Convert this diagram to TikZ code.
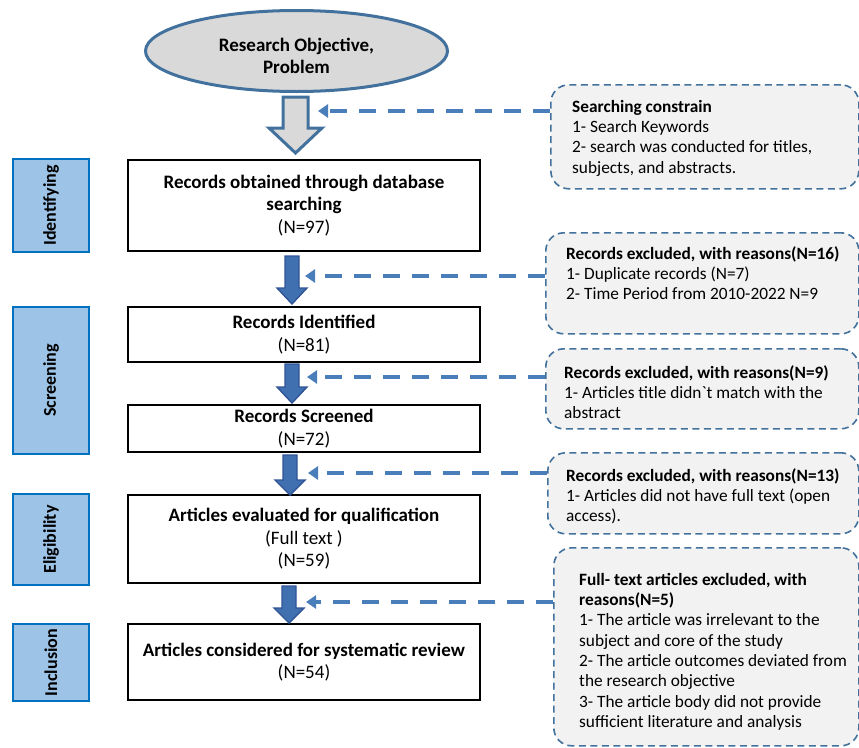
\documentclass[tikz,border=0pt]{standalone}
\usepackage{fontspec}
\setmainfont{Carlito}
\newfontfamily\plainfont[Ligatures=TeXOff]{Carlito}
\usetikzlibrary{shapes.geometric,arrows.meta}
\definecolor{ellfill}{HTML}{D9D9D9}
\definecolor{ellborder}{HTML}{41719C}
\definecolor{sidefill}{HTML}{9DC3E6}
\definecolor{sideborder}{HTML}{0070C0}
\definecolor{callfill}{HTML}{F2F2F2}
\definecolor{callborder}{HTML}{41719C}
\definecolor{darrcol}{HTML}{4A7EBB}
\definecolor{blkfill}{HTML}{4170B0}
\definecolor{blkborder}{HTML}{2F5597}
\begin{document}
\begin{tikzpicture}[x=1pt,y=-1pt,
  mainbox/.style={draw=black, line width=2.3pt, fill=white, align=center, inner sep=0pt,
    minimum width=352pt, font=\fontsize{19}{22.5}\selectfont},
  sidebox/.style={draw=sideborder, fill=sidefill, line width=2pt, rotate=90, inner sep=0pt,
    minimum height=76pt, font=\bfseries\fontsize{18}{20}\selectfont},
  callout/.style={draw=callborder, fill=callfill, line width=1.6pt, dash pattern=on 7pt off 4.5pt,
    rounded corners=18pt, inner sep=0pt, anchor=north west},
  ctext/.style={align=left, anchor=north west, inner sep=0pt, font=\fontsize{17.3}{20.3}\selectfont},
  darr/.style={draw=darrcol, line width=3.6pt, dash pattern=on 17pt off 12pt,
    -{Triangle[length=10pt,width=13pt]}},
  blk/.style={draw=blkborder, fill=blkfill, line width=1.4pt, line join=miter},
  hollow/.style={draw=ellborder, fill=ellfill, line width=3pt, line join=miter}
]
\useasboundingbox (0,0) rectangle (859,747);

% objective ellipse
\node[ellipse, draw=ellborder, fill=ellfill, line width=3pt, minimum width=302pt, minimum height=81pt,
  inner sep=0pt] (obj) at (296.5,51) {};
\node[align=center, inner sep=0pt, font=\bfseries\fontsize{19}{22.5}\selectfont] (objt) at (296.5,56)
  {Research Objective,\\Problem};

% hollow arrow
\draw[hollow] (283,97) -- (308,97) -- (308,128) -- (322,128) -- (295.5,153) -- (269,128) -- (283,128) -- cycle;

% main boxes
\node[mainbox, minimum height=91pt] (b1) at (304,205.5)
  {\textbf{Records obtained through database}\\\textbf{searching}\\(N=97)};
\node[mainbox, minimum height=55pt] (b2) at (304,334.5)
  {\textbf{Records Identified}\\(N=81)};
\node[mainbox, minimum height=47pt] (b3) at (304,428.5)
  {\textbf{Records Screened}\\(N=72)};
\node[mainbox, minimum height=88pt] (b4) at (304,539)
  {\textbf{Articles evaluated for qualification}\\(Full text )\\(N=59)};
\node[mainbox, minimum height=76pt] (b5) at (304,662)
  {\textbf{Articles considered for systematic review}\\(N=54)};

% side labels
\node[sidebox, minimum width=93pt] (s1) at (51,205.5) {Identifying};
\node[sidebox, minimum width=147pt] (s2) at (51,380.5) {Screening};
\node[sidebox, minimum width=91pt] (s3) at (51,539.5) {Eligibility};
\node[sidebox, minimum width=77pt] (s4) at (51,662.5) {Inclusion};

% block arrows
\draw[blk] (285,256) -- (299,256) -- (299,288) -- (307,288) -- (292,304) -- (277,288) -- (285,288) -- cycle;
\draw[blk] (285,364) -- (299,364) -- (299,387) -- (307,387) -- (292,403) -- (277,387) -- (285,387) -- cycle;
\draw[blk] (283,455) -- (297,455) -- (297,480) -- (305,480) -- (290,495) -- (275,480) -- (283,480) -- cycle;
\draw[blk] (282,586) -- (296,586) -- (296,608) -- (304,608) -- (289,623) -- (274,608) -- (282,608) -- cycle;

% callouts
\node[callout, minimum width=308pt, minimum height=104pt] (c1) at (550,84) {};
\node[callout, minimum width=313pt, minimum height=101pt] (c2) at (545,232) {};
\node[callout, minimum width=313pt, minimum height=80pt] (c3) at (545,348) {};
\node[callout, minimum width=311pt, minimum height=81pt] (c4) at (547,452) {};
\node[callout, minimum width=305pt, minimum height=198pt] (c5) at (553,547) {};

\node[ctext] (t1) at (572,100) {\textbf{Searching constrain}\\1- Search Keywords\\2- search was conducted for titles,\\subjects, and abstracts.};
\node[ctext] (t2) at (566,246) {\textbf{Records excluded, with reasons(N=16)}\\1- Duplicate records (N=7)\\2- Time Period from 2010-2022 N=9};
\node[ctext] (t3) at (564,365) {\textbf{Records excluded, with reasons(N=9)}\\1- Articles title didn{\plainfont`}t match with the\\abstract};
\node[ctext] (t4) at (566,468) {\textbf{Records excluded, with reasons(N=13)}\\1- Articles did not have full text (open\\access).};
\node[ctext] (t5) at (579,573) {\textbf{Full- text articles excluded, with}\\\textbf{reasons(N=5)}\\1- The article was irrelevant to the\\subject and core of the study\\2- The article outcomes deviated from\\the research objective\\3- The article body did not provide\\sufficient literature and analysis};

% dashed connectors
\coordinate (d0) at (318,111);
\coordinate (d1) at (305,276);
\coordinate (d2) at (307,377);
\coordinate (d3) at (308,473);
\coordinate (d4) at (306,602);
\draw[darr] (c1.west |- d0) -- (d0);
\draw[darr] (c2.west |- d1) -- (d1);
\draw[darr] (c3.west |- d2) -- (d2);
\draw[darr] (c4.west |- d3) -- (d3);
\draw[darr] (c5.west |- d4) -- (d4);
\end{tikzpicture}
\end{document}
